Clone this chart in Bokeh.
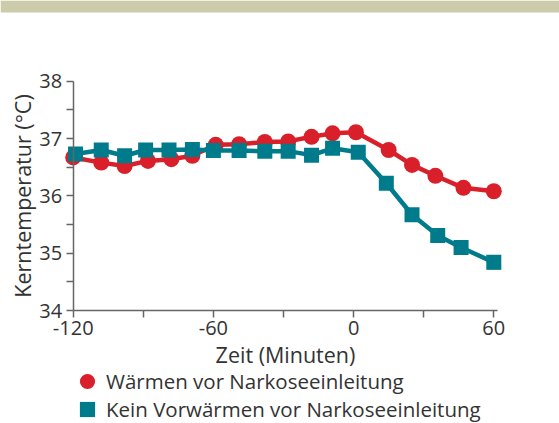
from bokeh.plotting import figure
from bokeh.models import FixedTicker, Legend, LegendItem, Range1d, BoxAnnotation
from bokeh.embed import file_html
from bokeh.resources import INLINE

# Data
time_warm = [-120, -108, -98, -88, -78, -69, -59, -49, -38, -28, -18, -9, 1, 15, 25, 35, 47, 60]
temp_warm = [36.67, 36.58, 36.52, 36.61, 36.64, 36.70, 36.89, 36.90, 36.94, 36.95, 37.03, 37.09, 37.11,
             36.80, 36.54, 36.35, 36.14, 36.08]

time_cold = [-119, -108, -98, -89, -79, -69, -60, -49, -38, -28, -18, -9, 2, 14, 25, 36, 46, 60]
temp_cold = [36.73, 36.80, 36.70, 36.80, 36.80, 36.81, 36.79, 36.79, 36.78, 36.78, 36.71, 36.83, 36.76,
             36.22, 35.67, 35.31, 35.10, 34.84]

x_ticks = [-120, -60, 0, 60]
x_minor = [-90, -30, 30]
x_tick_labels = {-120: "-120", -60: "-60", 0: "0", 60: "60"}
y_ticks = [34, 35, 36, 37, 38]
y_minor = [34.5, 35.5, 36.5, 37.5]

label_warm = "Wärmen vor Narkoseeinleitung"
label_cold = "Kein Vorwärmen vor Narkoseeinleitung"
x_title = "Zeit (Minuten)"
y_title = "Kerntemperatur (°C)"

RED = "#D9202A"
TEAL = "#007B8B"
BAND = "#CCCCAB"
TXT = "#333333"
AX = "#666666"
FONT = "Open Sans"

# ---- layout geometry (pixels in the canvas; Bokeh's page has no body margin) ----
W, H = 559, 423
AX_LEFT, AX_RIGHT = 72.7, 493.3      # canvas x of first / last major x tick
AX_BOTTOM, AX_TOP = 310, 80.7        # canvas y of first / last major y tick
BAND_H = 12
x_lo, x_hi = x_ticks[0], x_ticks[-1]
y_lo, y_hi = y_ticks[0], y_ticks[-1]
xs = (AX_RIGHT - AX_LEFT) / (x_hi - x_lo)
ys = (AX_BOTTOM - AX_TOP) / (y_hi - y_lo)
x_start = x_lo - AX_LEFT / xs
x_end = x_start + W / xs
y_end = y_lo + AX_BOTTOM / ys
y_start = y_end - H / ys
x_axis_end = x_hi + 4 / xs

# frame covers the whole canvas; axes are pinned at the first ticks
p = figure(width=W, height=H, output_backend="svg", toolbar_location=None,
           x_range=Range1d(x_start, x_end), y_range=Range1d(y_start, y_end),
           min_border_left=0, min_border_right=0, min_border_top=0, min_border_bottom=0)
p.outline_line_color = None
p.xgrid.visible = False
p.ygrid.visible = False

# beige band along the top edge
p.add_layout(BoxAnnotation(bottom=y_end - BAND_H / ys, fill_color=BAND, fill_alpha=1, line_color=None,
                           level="underlay"))

p.line(time_warm, temp_warm, line_color=RED, line_width=4.5)
rw = p.scatter(time_warm, temp_warm, marker="circle", size=16, fill_color=RED, line_color=None)
p.line(time_cold, temp_cold, line_color=TEAL, line_width=4.5)
rc = p.scatter(time_cold, temp_cold, marker="square", size=15, fill_color=TEAL, line_color=None)

p.xaxis.ticker = FixedTicker(ticks=x_ticks, minor_ticks=x_minor)
p.yaxis.ticker = FixedTicker(ticks=y_ticks, minor_ticks=y_minor)
p.xaxis.major_label_overrides = x_tick_labels
p.xaxis.axis_label = x_title
p.yaxis.axis_label = y_title
p.xaxis.fixed_location = y_lo
p.yaxis.fixed_location = x_lo
p.xaxis.bounds = (x_lo, x_axis_end)
p.yaxis.bounds = (y_lo, y_hi)

for ax in (p.xaxis, p.yaxis):
    ax.axis_line_color = AX
    ax.axis_line_width = 1.5
    ax.major_tick_line_color = AX
    ax.major_tick_line_width = 1.5
    ax.minor_tick_line_color = AX
    ax.minor_tick_line_width = 1.5
    ax.major_tick_in = 0
    ax.major_tick_out = 7
    ax.minor_tick_in = 0
    ax.minor_tick_out = 7
    ax.major_label_text_font = FONT
    ax.major_label_text_font_size = "20px"
    ax.major_label_text_color = TXT
    ax.axis_label_text_font = FONT
    ax.axis_label_text_font_size = "21.5px"
    ax.axis_label_text_color = TXT
    ax.axis_label_text_font_style = "normal"

p.xaxis.major_label_standoff = 3
p.yaxis.major_label_standoff = 4
p.xaxis.axis_label_standoff = 2
p.yaxis.axis_label_standoff = 0

# two one-row legends so that the rows can sit closer than the glyph boxes
GLYPH = 38
LEG_X = 68
ROW1_Y, ROW2_Y = 381, 409   # canvas y of row centres
for r, lab, cy in ((rw, label_warm, ROW1_Y), (rc, label_cold, ROW2_Y)):
    lg = Legend(items=[LegendItem(label=lab, renderers=[r])],
                location=(LEG_X, H - (cy + GLYPH / 2)), glyph_width=GLYPH, glyph_height=GLYPH,
                label_standoff=-4, padding=0, margin=0, border_line_color=None,
                background_fill_alpha=0, label_text_font=FONT, label_text_font_size="20.5px",
                label_text_color=TXT)
    p.add_layout(lg)

open("out.html", "w").write(file_html(p, INLINE))
